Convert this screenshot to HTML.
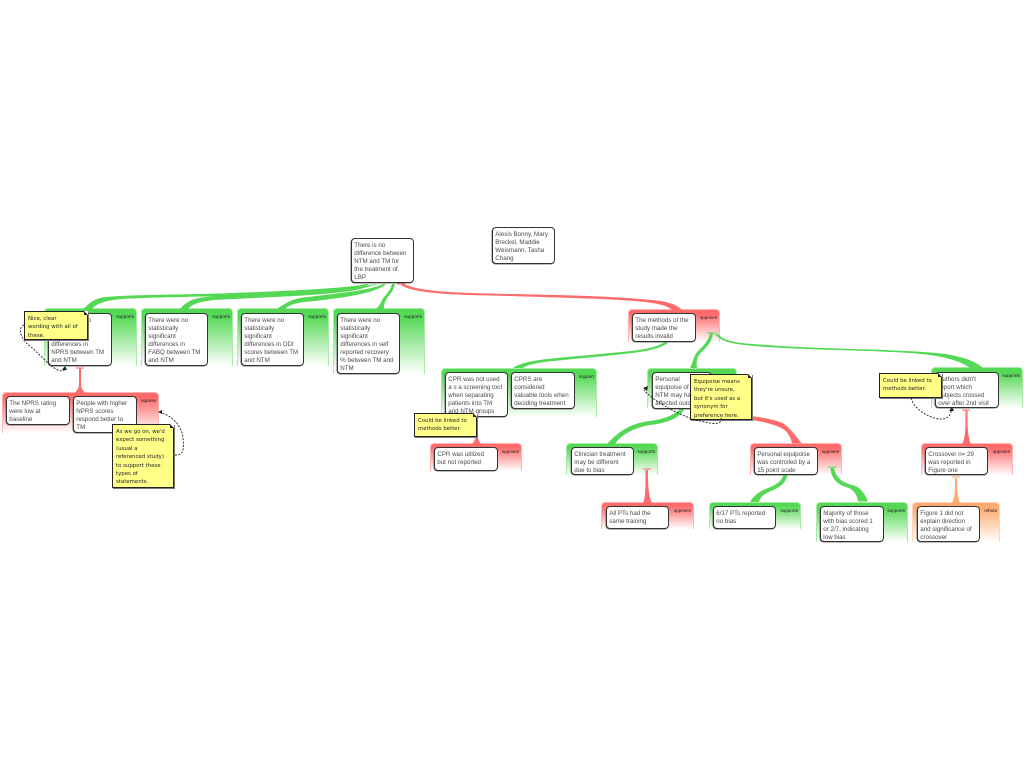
<!DOCTYPE html>
<html><head><meta charset="utf-8"><style>
html,body{margin:0;padding:0;background:#fff}
#p{position:relative;width:1024px;height:768px;overflow:hidden;background:#fff;font-family:"Liberation Sans",sans-serif}
.f{position:absolute;box-sizing:border-box;border-radius:4px 4px 0 0;font-size:4.6px;color:#222;text-align:right;padding:5px 2px 0 0;line-height:6px}
.g{background:linear-gradient(#55d855 0,#55d855 12%,#fff 100%);border:1px solid #a8eca8;border-bottom:0}
.r{background:linear-gradient(#ff6a6a 0,#ff6a6a 12%,#fff 100%);border:1px solid #ffb5b5;border-bottom:0}
.o{background:linear-gradient(#ffaa70 0,#ffaa70 12%,#fff 100%);border:1px solid #ffd4b8;border-bottom:0}
.n{position:absolute;box-sizing:border-box;background:#fff;border:1px solid #333;border-radius:4px;box-shadow:-.5px .5px 0 #777;font-size:6.2px;line-height:8.15px;color:#4a4a4a;padding:2.5px 0 0 2.3px;white-space:nowrap;overflow:hidden}
.s{position:absolute;box-sizing:border-box;background:#ffff88;border:1px solid #222;box-shadow:1px 1px 0 #777;font-family:"DejaVu Sans",sans-serif;font-size:5.4px;line-height:8.4px;color:#222;padding:3px 0 0 3px;white-space:nowrap}
.s:after{content:"";position:absolute;right:-1px;top:-1px;border-style:solid;border-width:0 4px 4px 0;border-color:transparent #fff #222 transparent}
svg{position:absolute;left:0;top:0}
</style></head><body><div id="p">

<div class="f g" style="left:44px;top:308px;width:93px;height:58px">supports</div>
<div class="f g" style="left:141px;top:308px;width:92px;height:58px">supports</div>
<div class="f g" style="left:237px;top:308px;width:92px;height:58px">supports</div>
<div class="f g" style="left:333px;top:308px;width:92px;height:66px">supports</div>
<div class="f r" style="left:2px;top:392px;width:157px;height:41px">oppose</div>
<div class="f r" style="left:628px;top:309px;width:92px;height:33px">opposes</div>
<div class="f g" style="left:441px;top:368px;width:156px;height:49px">support</div>
<div class="f g" style="left:647px;top:368px;width:90px;height:40px"></div>
<div class="f g" style="left:931px;top:367px;width:92px;height:41px">supports</div>
<div class="f r" style="left:430px;top:443px;width:92px;height:28px">opposes</div>
<div class="f g" style="left:566px;top:443px;width:92px;height:32px">supports</div>
<div class="f r" style="left:750px;top:443px;width:92px;height:32px">opposes</div>
<div class="f r" style="left:921px;top:443px;width:92px;height:32px">opposes</div>
<div class="f r" style="left:601px;top:502px;width:93px;height:27px">opposes</div>
<div class="f g" style="left:709px;top:502px;width:92px;height:27px">supports</div>
<div class="f g" style="left:816px;top:502px;width:92px;height:40px">supports</div>
<div class="f o" style="left:912px;top:502px;width:88px;height:40px">rebuts</div>

<svg width="1024" height="768" viewBox="0 0 1024 768">
<g fill="#55d855" stroke="none">
<path d="M366 284C350 288 290 291 220 293.5C160 295 115 295 100 298C92 300 88 305 83 309L92 309C96 304 104 300.5 122 299C160 296.5 300 296 350 290C358 289 364 287 369 284Z"/>
<path d="M375 284C360 288 300 290 240 294C215 296 196 297 190 301C186 303 183 305 180 309L188 309C192 304 200 301.5 215 300C260 297.5 340 295 360 289C368 287 374 285 378 284Z"/>
<path d="M383 284C370 291 330 294 300 298C290 300 284 304 277 309L285 309C290 304 298 302.5 310 301.5C340 298 375 294 386 284Z"/>
<path d="M392 284C390 292 384 296 382 300C381 303 379 306 376 309L384 309C384 305 384.5 303 386 300C388 296 394 291 395 284Z"/>
<path d="M666 341C655 350 630 351 600 354C560 358 525 359 513 368L523 368C530 362 560 360.5 600 356.5C635 353 660 351 670 341Z"/>
<path d="M710 333C708 342 703 346 698 351C694 355 693 362 690 368L697 368C696 362 697 356 701.5 352C707 347 712 342 713 333Z"/>
<path d="M715 334C722 342 730 344 760 346.5C820 351 890 350 930 355C950 358 962 362 970 368L983 368C975 360 955 354 930 352.5C890 349 810 349 760 344.5C735 343 724 341 718 334Z"/>
<path d="M681 408C676 414 665 419 650 421C630 423 618 432 607 444L615 444C620 436 632 428 650 425C668 423 680 418 685 408Z"/>
<path d="M783.5 475C782 481 776 485 768 488C760 491 754 495 750 502L759 502C760 497 764 494 771 491C779 488 786 483 787.5 475Z"/>
<path d="M830.5 468C831 477 836 484 846 487C853 489 857 494 858 501.5L868 501.5C864 492 860 487 852 485C843 483 836 478 834 468Z"/>
</g>
<g fill="#ff6a6a" stroke="none">
<path d="M401 285C415 295 470 295 510 296C570 298 620 299 645 302C660 304 668 306 672 310L682 310C676 304 668 301 645 299.5C610 296 560 295 510 294C460 293 420 292 404 284Z"/>
<path d="M79 368L79 385C79 388 77 390 75 393L85 393C83 390 81 388 81 385L81 368Z"/>
<path d="M475.5 418L475.5 437C475.5 440 474 441 472 444L481 444C479 441 478 440 478 437L478 418Z"/>
<path d="M645.5 470C645.5 490 645.5 497 643 503L652 503C649 497 648 490 648 470Z"/>
<path d="M965.5 410C965.5 430 965.5 438 962 444L971 444C968 438 967.5 430 967.5 410Z"/>
<path d="M740 415C755 416 772 419 780 422C788 425 794 434 802 443.5L792 443.5C791 438 788 432 783 429C775 424 760 421 740 418Z"/>
</g>
<path fill="#ffaa70" d="M955 478C955 492 955 498 952 503L960 503C958 498 957 492 957 478Z"/>
<g stroke-width="1" fill="none">
<path stroke="#ff6a6a" d="M397 284H405M76 368H84M472 417H480M643 469H651M962 410H970"/>
<path stroke="#55d855" d="M707 333H717M828 467H837"/>
<path stroke="#ffaa70" d="M952 477H960"/>
</g>
</svg>

<div class="n" style="left:351px;top:238px;width:63px;height:45px">There is no<br>difference between<br>NTM and TM for<br>the treatment of<br>LBP</div>
<div class="n" style="left:492px;top:227px;width:63px;height:37px">Alexis Bonny, Mary<br>Breckel, Maddie<br>Weismann, Tasha<br>Chang</div>
<div class="n" style="left:48px;top:313px;width:64px;height:53px">There were no<br>statistically<br>significant<br>differences in<br>NPRS between TM<br>and NTM</div>
<div class="n" style="left:145px;top:313px;width:63px;height:53px">There were no<br>statistically<br>significant<br>differences in<br>FABQ between TM<br>and NTM</div>
<div class="n" style="left:241px;top:313px;width:63px;height:53px">There were no<br>statistically<br>significant<br>differences in ODI<br>scores between TM<br>and NTM</div>
<div class="n" style="left:337px;top:313px;width:63px;height:61px">There were no<br>statistically<br>significant<br>differences in self<br>reported recovery<br>% between TM and<br>NTM</div>
<div class="n" style="left:6px;top:396px;width:64px;height:29px">The NPRS rating<br>were low at<br>baseline</div>
<div class="n" style="left:73px;top:396px;width:64px;height:37px">People with higher<br>NPRS scores<br>respond better to<br>TM</div>
<div class="n" style="left:632px;top:313px;width:64px;height:29px">The methods of the<br>study made the<br>results invalid</div>
<div class="n" style="left:445px;top:372px;width:63px;height:45px">CPR was not used<br>a s a screening tool<br>when separating<br>patients into TM<br>and NTM groups</div>
<div class="n" style="left:511px;top:372px;width:64px;height:37px">CPRS are<br>considered<br>valuable tools when<br>deciding treatment</div>
<div class="n" style="left:652px;top:372px;width:60px;height:37px">Personal<br>equipoise of<br>NTM may have<br>affected outcomes</div>
<div class="n" style="left:935px;top:372px;width:64px;height:36px">Authors didn't<br>report which<br>subjects crossed<br>over after 2nd visit</div>
<div class="n" style="left:434px;top:447px;width:64px;height:24px">CPR was utilized<br>but not reported</div>
<div class="n" style="left:571px;top:447px;width:63px;height:28px">Clinician treatment<br>may be different<br>due to bias</div>
<div class="n" style="left:754px;top:447px;width:64px;height:28px">Personal equipoise<br>was controlled by a<br>15 point scale</div>
<div class="n" style="left:925px;top:447px;width:63px;height:28px">Crossover n= 29<br>was reported in<br>Figure one</div>
<div class="n" style="left:606px;top:506px;width:63px;height:23px">All PTs had the<br>same training</div>
<div class="n" style="left:713px;top:506px;width:63px;height:23px">6/17 PTs reported<br>no bias</div>
<div class="n" style="left:820px;top:506px;width:64px;height:36px">Majority of those<br>with bias scored 1<br>or 2/7, indicating<br>low bias</div>
<div class="n" style="left:917px;top:506px;width:63px;height:36px">Figure 1 did not<br>explain direction<br>and significance of<br>crossover</div>

<div class="s" style="left:24px;top:311px;width:64px;height:29px">Nice, clear<br>wording with all of<br>these.</div>
<div class="s" style="left:112px;top:424px;width:62px;height:64px">As we go on, we'd<br>expect something<br>(usual a<br>referenced study)<br>to support these<br>types of<br>statements.</div>
<div class="s" style="left:414px;top:413px;width:63px;height:24px">Could be linked to<br>methods better.</div>
<div class="s" style="left:690px;top:374px;width:62px;height:46px">Equipoise means<br>they're unsure,<br>but it's used as a<br>synonym for<br>preference here.</div>
<div class="s" style="left:879px;top:373px;width:63px;height:25px">Could be linked to<br>methods better.</div>

<svg width="1024" height="768" viewBox="0 0 1024 768">
<g fill="none" stroke="#222" stroke-width=".9" stroke-dasharray="2 1.4">
<path d="M24 325C17 328 21 340 30 346C42 356 52 370 62 371C65 371 65 369 65 367"/>
<path d="M175 455C184 456 184 448 183 438C182 425 170 414 158 412"/>
<path d="M721 418C722 426 712 424 696 420C675 414 650 398 644 390"/>
<path d="M911 398C914 410 932 420 943 419C950 418 951 413 952 408"/>
</g>
<g fill="#222">
<path d="M65 366L62 370L67 370Z"/>
<path d="M158 412L162 410L162 414Z"/>
<path d="M643 388L648 386L647 391Z"/>
<path d="M952 407L949 411L954 411Z"/>
</g>
</svg>
</div></body></html>
